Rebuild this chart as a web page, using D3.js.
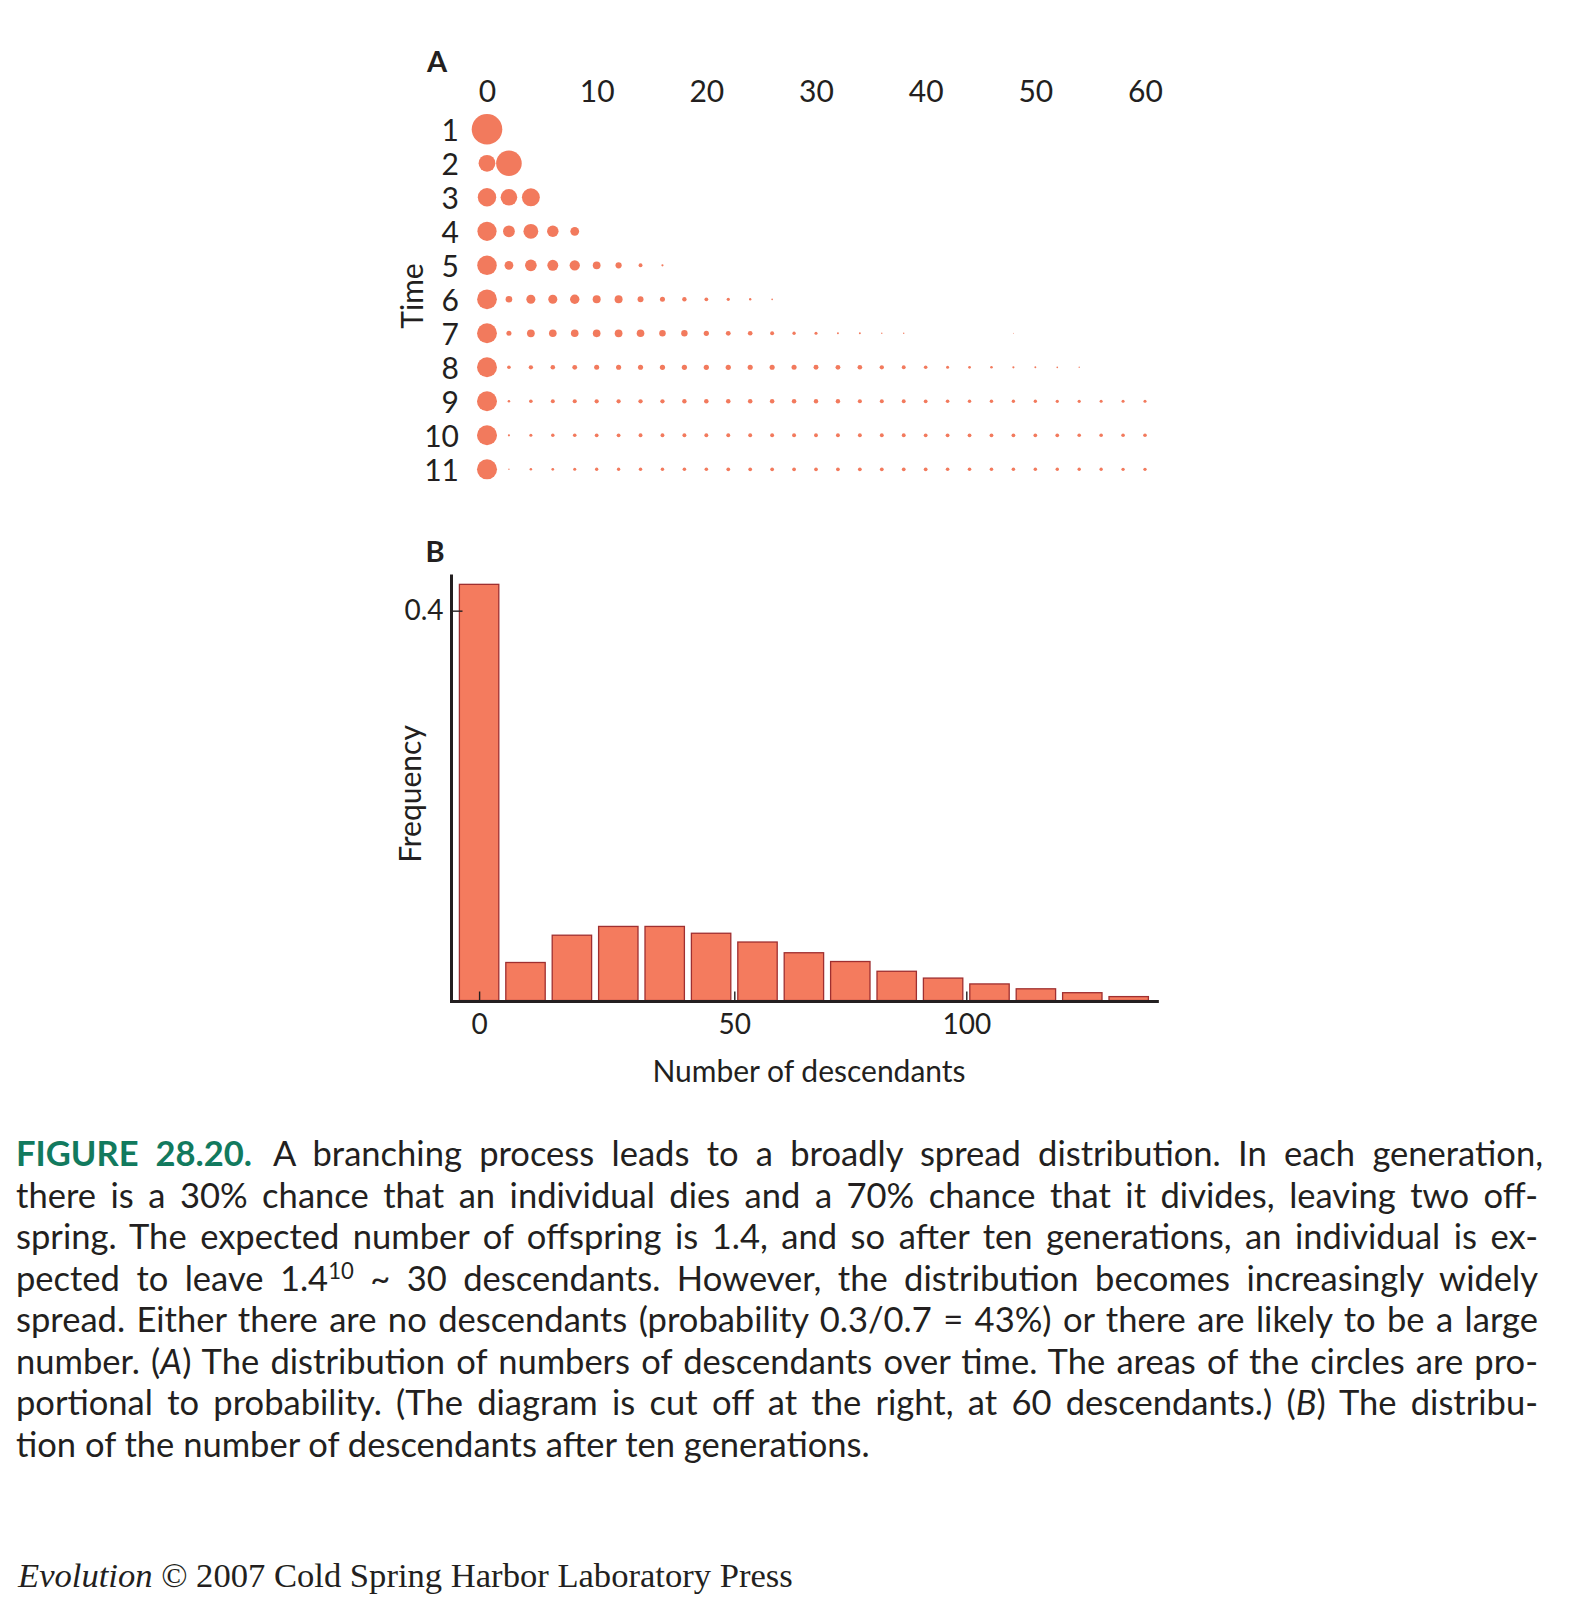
<!DOCTYPE html>
<html>
<head>
<meta charset="utf-8">
<script src="https://cdn.jsdelivr.net/npm/d3@7"></script>
<style>
    body { margin: 0; background: #fff; }
    text { white-space: pre; }
</style>
</head>
<body>
<svg id="fig" width="1573" height="1621"></svg>
<script>

/* ---------- data ---------- */

/* panel A: rows = time, columns = number of descendants (0,2,4,...) */
const time_steps = [1, 2, 3, 4, 5, 6, 7, 8, 9, 10, 11]
const counts = [0, 2, 4, 6, 8, 10, 12, 14, 16, 18, 20, 22, 24, 26, 28, 30,
                32, 34, 36, 38, 40, 42, 44, 46, 48, 50, 52, 54, 56, 58, 60]
const top_ticks = [0, 10, 20, 30, 40, 50, 60]

/* probability of each count, read from the circle areas */
const p_t1 = [1]
const p_t2 = [0.30, 0.70]
const p_t3 = [0.363, 0.294, 0.343]
const p_t4 = [0.392, 0.149, 0.235, 0.141, 0.082]
const p_t5 = [0.408, 0.082, 0.145, 0.127, 0.113, 0.064, 0.041, 0.016, 0.005]
const p_t6 = [0.416, 0.047, 0.087, 0.087, 0.094, 0.068, 0.068, 0.038, 0.027, 0.021, 0.015, 0.011, 0.006, 0.003]
const p_t7 = [0.421, 0.027, 0.064, 0.062, 0.062, 0.063, 0.064, 0.062, 0.045, 0.044, 0.029, 0.025, 0.023, 0.017,
              0.012, 0.010, 0.004, 0.004, 0.002, 0.002, 0, 0, 0, 0, 0.001]
const p_t8 = [0.424, 0.014, 0.020, 0.022, 0.025, 0.027, 0.028, 0.028, 0.029, 0.029, 0.029, 0.029, 0.028, 0.028,
              0.027, 0.026, 0.025, 0.023, 0.020, 0.016, 0.014, 0.010, 0.008, 0.007, 0.005, 0.004, 0.003, 0.002]
const p_t9 = [0.426, 0.007, 0.014, 0.017, 0.018, 0.019, 0.019, 0.020, 0.020, 0.021, 0.022, 0.022, 0.022, 0.022,
              0.022, 0.021, 0.021, 0.018, 0.017, 0.016, 0.015, 0.014, 0.013, 0.013, 0.012, 0.012, 0.011, 0.011,
              0.010, 0.010, 0.010]
const p_t10 = [0.427, 0.005, 0.010, 0.013, 0.014, 0.015, 0.0155, 0.016, 0.016, 0.0165, 0.0165, 0.0165, 0.0165,
               0.0165, 0.0165, 0.016, 0.016, 0.016, 0.016, 0.016, 0.0155, 0.0155, 0.015, 0.015, 0.015, 0.0145,
               0.0145, 0.014, 0.014, 0.014, 0.014]
const p_t11 = [0.428, 0.002, 0.007, 0.008, 0.010, 0.012, 0.012, 0.013, 0.013, 0.014, 0.014, 0.015, 0.015, 0.015,
               0.015, 0.015, 0.015, 0.015, 0.015, 0.015, 0.015, 0.014, 0.014, 0.0135, 0.0135, 0.013, 0.0125,
               0.0122, 0.012, 0.0118, 0.0115]
const rows = [p_t1, p_t2, p_t3, p_t4, p_t5, p_t6, p_t7, p_t8, p_t9, p_t10, p_t11]

/* panel B: histogram after ten generations (the zero bar sits in its own slot left of 0) */
const hist_lo = [-10, 0, 10, 20, 30, 40, 50, 60, 70, 80, 90, 100, 110, 120, 130]
const hist_freq = [0.427, 0.039, 0.067, 0.076, 0.076, 0.069, 0.060, 0.049, 0.040, 0.030, 0.023, 0.017, 0.012, 0.008, 0.004]
const hist_ticks = [-5, 50, 100]
const hist_tick_labels = ['0', '50', '100']
const freq_ticks = [0.4]

/* caption lines, as in the figure: [style, text] */
const caption = [
    [['b', 'FIGURE 28.20.'], ['r', ' A branching process leads to a broadly spread distribution. In each generation,']],
    [['r', 'there is a 30% chance that an individual dies and a 70% chance that it divides, leaving two off-']],
    [['r', 'spring. The expected number of offspring is 1.4, and so after ten generations, an individual is ex-']],
    [['r', 'pected to leave 1.4'], ['sup', '10'], ['r', ' ~ 30 descendants. However, the distribution becomes increasingly widely']],
    [['r', 'spread. Either there are no descendants (probability 0.3/0.7 = 43%) or there are likely to be a large']],
    [['r', 'number. ('], ['i', 'A'], ['r', ') The distribution of numbers of descendants over time. The areas of the circles are pro-']],
    [['r', 'portional to probability. (The diagram is cut off at the right, at 60 descendants.) ('], ['i', 'B'], ['r', ') The distribu-']],
    [['r', 'tion of the number of descendants after ten generations.']]
]


/* ---------- drawing ---------- */

const svg = d3.select('#fig')

const dot_color = '#f27a5d', bar_fill = '#f47b5e', bar_stroke = '#9f2f30'
const ink = '#231f20', green = '#127a5e'
const sans = 'Lato, "Open Sans", "DejaVu Sans", sans-serif'
const serif = '"Liberation Serif", "DejaVu Serif", serif'


/* ===== panel A ===== */
const xA = d3.scaleLinear().domain([0, 60]).range([487, 1145])
const yA = d3.scaleLinear().domain([1, 11]).range([129.3, 469.3])
const rA = d3.scaleSqrt().domain([0, 1]).range([0, 15.3])

let dots = []
rows.forEach((r, i) => r.forEach((p, j) => {
    if (p > 0) dots.push({'t': time_steps[i], 'n': counts[j], 'p': p})
}))

svg.append('g')
    .selectAll('circle')
    .data(dots)
    .join('circle')
    .attr('cx', d => xA(d.n))
    .attr('cy', d => yA(d.t))
    .attr('r', d => rA(d.p))
    .attr('fill', dot_color)

/* top tick labels */
svg.append('g')
    .attr('transform', 'translate(0,102)')
    .call(d3.axisTop(xA).tickValues(top_ticks).tickSize(0).tickPadding(0).tickFormat(d3.format('d')))
    .call(g => g.select('.domain').remove())
    .selectAll('text')
    .attr('font-size', 30)
    .attr('font-family', sans)
    .attr('fill', ink)

/* time labels */
svg.append('g')
    .attr('transform', 'translate(459,0)')
    .call(d3.axisLeft(yA).tickValues(time_steps).tickSize(0).tickPadding(0).tickFormat(d3.format('d')))
    .call(g => g.select('.domain').remove())
    .selectAll('text')
    .attr('dy', '0.36em')
    .attr('font-size', 30)
    .attr('font-family', sans)
    .attr('fill', ink)

svg.append('text')
    .attr('x', 437).attr('y', 72)
    .attr('text-anchor', 'middle')
    .attr('font-size', 29).attr('font-weight', 'bold')
    .attr('font-family', sans).attr('fill', ink)
    .text('A')

svg.append('text')
    .attr('transform', 'translate(423,296) rotate(-90)')
    .attr('text-anchor', 'middle')
    .attr('font-size', 30)
    .attr('font-family', sans).attr('fill', ink)
    .text('Time')


/* ===== panel B ===== */
const xB = d3.scaleLinear().domain([-10, 140]).range([455.9, 1151.9])
const yB = d3.scaleLinear().domain([0, 0.437]).range([1000.5, 574.6])
const bar_gap = 3.5

svg.append('g')
    .selectAll('rect')
    .data(hist_lo.map((lo, i) => ({'lo': lo, 'f': hist_freq[i]})))
    .join('rect')
    .attr('x', d => xB(d.lo) + bar_gap)
    .attr('width', d => xB(d.lo + 10) - xB(d.lo) - 2 * bar_gap)
    .attr('y', d => yB(d.f))
    .attr('height', d => yB(0) - yB(d.f))
    .attr('fill', bar_fill)
    .attr('stroke', bar_stroke)
    .attr('stroke-width', 1.3)

/* x axis: ticks point up into the plot */
svg.append('g')
    .attr('transform', `translate(0,${yB(0) + 1})`)
    .call(d3.axisBottom(xB).tickValues(hist_ticks).tickSize(-10).tickPadding(13)
        .tickFormat((d, i) => hist_tick_labels[i]))
    .call(g => g.select('.domain').remove())
    .call(g => g.selectAll('line').attr('stroke', ink).attr('stroke-width', 1.4))
    .selectAll('text')
    .attr('font-size', 28)
    .attr('font-family', sans)
    .attr('fill', ink)

/* y axis */
svg.append('g')
    .attr('transform', 'translate(451.5,0)')
    .call(d3.axisLeft(yB).tickValues(freq_ticks).tickSize(-11).tickPadding(8).tickFormat(d3.format('.1f')))
    .call(g => g.select('.domain').remove())
    .call(g => g.selectAll('line').attr('stroke', ink).attr('stroke-width', 1.4))
    .selectAll('text')
    .attr('font-size', 28)
    .attr('font-family', sans)
    .attr('fill', ink)

/* the two axis lines */
svg.append('line')
    .attr('x1', 451.5).attr('x2', 451.5)
    .attr('y1', yB(0.437)).attr('y2', yB(0) + 2.5)
    .attr('stroke', ink).attr('stroke-width', 3)
svg.append('line')
    .attr('x1', 450).attr('x2', xB(141.5))
    .attr('y1', yB(0) + 1).attr('y2', yB(0) + 1)
    .attr('stroke', ink).attr('stroke-width', 3)

svg.append('text')
    .attr('x', 435).attr('y', 562)
    .attr('text-anchor', 'middle')
    .attr('font-size', 29).attr('font-weight', 'bold')
    .attr('font-family', sans).attr('fill', ink)
    .text('B')

svg.append('text')
    .attr('transform', 'translate(421,794) rotate(-90)')
    .attr('text-anchor', 'middle')
    .attr('font-size', 30)
    .attr('font-family', sans).attr('fill', ink)
    .text('Frequency')

svg.append('text')
    .attr('x', 809).attr('y', 1082)
    .attr('text-anchor', 'middle')
    .attr('font-size', 30)
    .attr('font-family', sans).attr('fill', ink)
    .text('Number of descendants')


/* ===== caption, justified line by line ===== */
const cap_left = 16, cap_right = 1538, cap_top = 1166, cap_step = 41.5
let cap_size = 35

const cap_g = svg.append('g')
const cap_texts = caption.map((line, i) => {
    let t = cap_g.append('text')
        .attr('x', cap_left)
        .attr('y', cap_top + i * cap_step)
        .attr('font-family', sans)
        .attr('fill', ink)
    line.forEach(([s, str], k) => {
        let ts = t.append('tspan').text(str)
        if (s == 'b') ts.attr('font-weight', 'bold').attr('fill', green)
        if (s == 'i') ts.attr('font-style', 'italic')
        if (s == 'sup') ts.attr('font-size', '0.64em').attr('dy', -12)
        if (k > 0 && line[k - 1][0] == 'sup') ts.attr('dy', 12)
        if (k > 0 && line[k - 1][0] == 'b') ts.attr('dx', 5)
    })
    return t
})

const fit = () => {
    cap_texts.forEach(t => t.attr('font-size', cap_size).style('word-spacing', null))
    return d3.max(cap_texts.slice(0, -1), t => t.node().getComputedTextLength())
}
let widest = fit()
if (widest > 0.975 * (cap_right - cap_left)) {
    cap_size = cap_size * 0.975 * (cap_right - cap_left) / widest
    fit()
}
cap_texts.slice(0, -1).forEach((t, i) => {
    const natural = t.node().getComputedTextLength()
    const n_spaces = caption[i].map(d => d[1]).join('').split(' ').length - 1
    t.style('word-spacing', `${(cap_right - cap_left - natural) / n_spaces}px`)
})


/* ===== footer ===== */
const foot = svg.append('text')
    .attr('x', 18).attr('y', 1587)
    .attr('font-family', serif)
    .attr('font-size', 28)
    .attr('fill', ink)
foot.append('tspan').attr('font-style', 'italic').text('Evolution')
foot.append('tspan').text(' \u00a9 2007 Cold Spring Harbor Laboratory Press')
const foot_w = foot.node().getComputedTextLength()
foot.attr('font-size', 28 * 775 / foot_w)

</script>
</body>
</html>
